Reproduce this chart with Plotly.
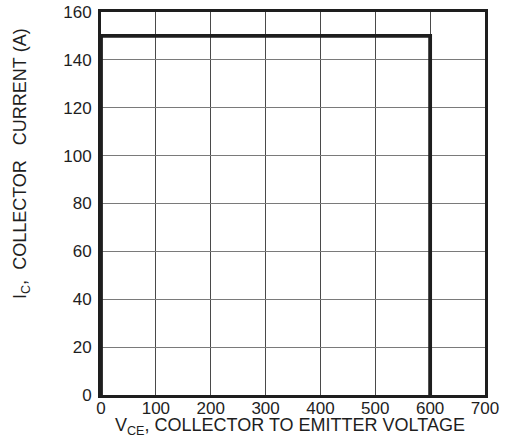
import plotly.graph_objects as go

# Data (safe operating area boundary)
vce = [0, 0, 600, 600]
ic = [0, 150, 150, 0]
x_ticks = [0, 100, 200, 300, 400, 500, 600, 700]
y_ticks = [0, 20, 40, 60, 80, 100, 120, 140, 160]

x_title = "V<sub>CE</sub>, COLLECTOR TO EMITTER VOLTAGE"
y_title = ("I<sub>C</sub>,&nbsp;&nbsp;COLLECTOR&nbsp;&nbsp;&nbsp;"
           "CURRENT&nbsp;(A)")

FAM = "Liberation Sans, Arial, Helvetica, sans-serif"
INK = "#1e1e1e"

fig = go.Figure()
fig.add_trace(go.Scatter(x=vce, y=ic, mode="lines",
                         line=dict(color=INK, width=3.8),
                         showlegend=False, hoverinfo="skip"))

W, H = 507, 442
L, R, T, B = 101, 22, 12, 47
fig.update_layout(
    width=W, height=H,
    margin=dict(l=L, r=R, t=T, b=B, autoexpand=False),
    paper_bgcolor="white", plot_bgcolor="white",
    font=dict(family=FAM, size=17, color=INK),
)
fig.update_xaxes(
    range=[0, 700], tickvals=x_ticks, ticktext=[str(v) for v in x_ticks],
    showgrid=True, gridcolor="#4a4a4a", gridwidth=1,
    showline=True, linecolor=INK, linewidth=3, mirror=True,
    ticks="", ticklabelstandoff=-4, zeroline=False,
    tickfont=dict(family=FAM, size=17, color=INK),
    fixedrange=True,
)
fig.update_yaxes(
    range=[0, 160], tickvals=y_ticks, ticktext=[str(v) for v in y_ticks],
    showgrid=True, gridcolor="#7a7a7a", gridwidth=1,
    showline=True, linecolor=INK, linewidth=3, mirror=True,
    ticks="", ticklabelstandoff=3, zeroline=False,
    tickfont=dict(family=FAM, size=17, color=INK),
    fixedrange=True,
)

pw = W - L - R
ph = H - T - B
# x-axis title
fig.add_annotation(text=x_title, xref="paper", yref="paper",
                   x=(290 - L) / pw, y=0, xanchor="center", yanchor="top",
                   yshift=-18, showarrow=False,
                   font=dict(family=FAM, size=18, color=INK))
# y-axis title
fig.add_annotation(text=y_title, xref="paper", yref="paper",
                   x=(21 - L) / pw, y=(H - B - 164) / ph,
                   xanchor="center", yanchor="middle", textangle=-90,
                   showarrow=False,
                   font=dict(family=FAM, size=18, color=INK))

fig.write_html("out.html", config={"displayModeBar": False},
               post_script="document.body.style.margin='0';document.body.style.overflow='hidden';")
